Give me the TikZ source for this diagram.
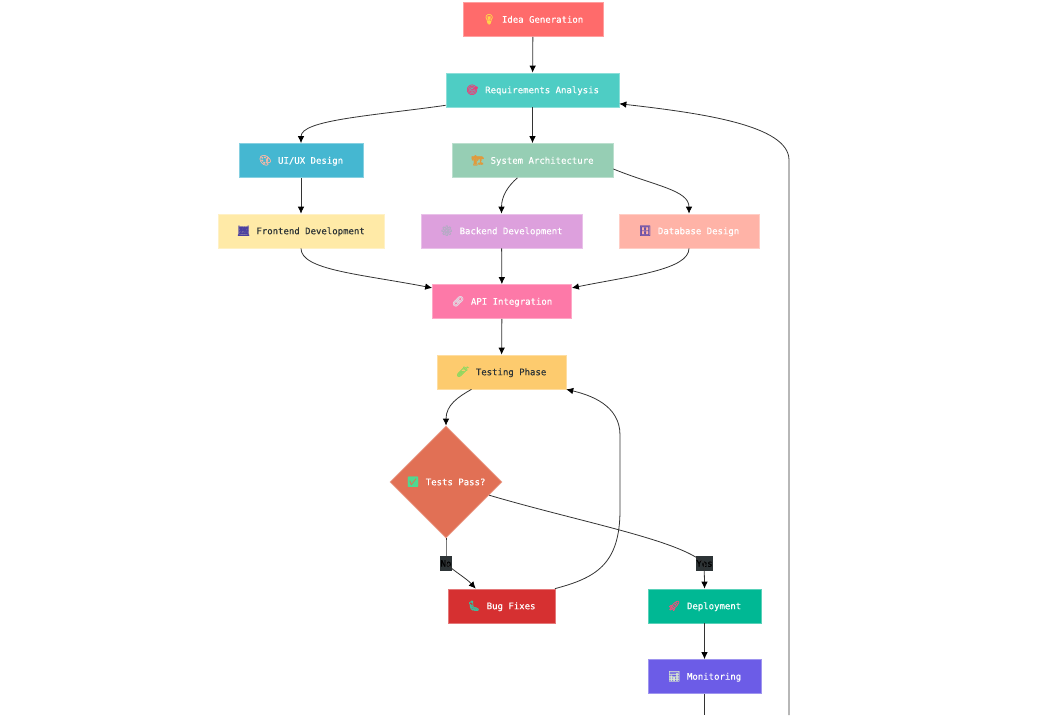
\documentclass[tikz,border=0pt]{standalone}
\usepackage{fontspec}
\setmonofont[FakeBold=0.4]{DejaVu Sans Mono}
\newfontfamily\emojifont[FakeBold=1.6]{Noto Emoji}
\usetikzlibrary{arrows.meta}
\usetikzlibrary{shapes.geometric}

\definecolor{ideared}{HTML}{FF6B6B}
\definecolor{reqteal}{HTML}{4ECDC4}
\definecolor{uiblue}{HTML}{45B7D1}
\definecolor{sysgreen}{HTML}{96CEB4}
\definecolor{frontyellow}{HTML}{FFEAA7}
\definecolor{backplum}{HTML}{DDA0DD}
\definecolor{dbpeach}{HTML}{FFB3A7}
\definecolor{apipink}{HTML}{FD79A8}
\definecolor{testorange}{HTML}{FDCB6E}
\definecolor{passcoral}{HTML}{E17055}
\definecolor{bugred}{HTML}{D63031}
\definecolor{deploygreen}{HTML}{00B894}
\definecolor{monviolet}{HTML}{6C5CE7}
\definecolor{darktext}{HTML}{2D3436}
\definecolor{edgegrey}{HTML}{333333}
% 图标颜色
\definecolor{bulbicon}{HTML}{FFD54A}
\definecolor{targeticon}{HTML}{E8407A}
\definecolor{paletteicon}{HTML}{F6B8A8}
\definecolor{cranicon}{HTML}{E09A3C}
\definecolor{abacusicon}{HTML}{4A3FA0}
\definecolor{gearicon}{HTML}{B4ACC4}
\definecolor{cabineticon}{HTML}{6A50A8}
\definecolor{linkicon}{HTML}{E4D4E0}
\definecolor{tubeicon}{HTML}{8ED860}
\definecolor{checkicon}{HTML}{50D890}
\definecolor{bugicon}{HTML}{3CC0A0}
\definecolor{rocketicon}{HTML}{F0507C}
\definecolor{charticon}{HTML}{D8E8D0}

\newcommand{\emo}[2]{{\emojifont\fontsize{10}{10}\selectfont\textcolor{#1}{#2}}\hspace{6.5pt}}

\tikzset{
    box/.style={rectangle, draw=#1!65!white, fill=#1, line width=0.7pt, inner sep=0pt,
        minimum height=34pt, text=white, text height=8pt, text depth=1.6pt,
        font=\ttfamily\fontsize{9}{9}\selectfont},
    flow/.style={draw=edgegrey, line width=0.8pt, -{Latex[length=7pt,width=6.5pt,color=black]}},
    plainflow/.style={draw=edgegrey, line width=0.8pt},
    tag/.style={fill=darktext, text=black, inner sep=0pt, minimum height=15pt, font=\ttfamily\fontsize{9}{9}\selectfont},
}

\begin{document}
\begin{tikzpicture}[x=1pt,y=-1pt]
    \useasboundingbox (0,0) rectangle (1055,715);

    % 节点
    \node[box=ideared, minimum width=140pt] (idea) at (533,19.5) {\emo{bulbicon}{💡}Idea Generation};
    \node[box=reqteal, minimum width=173pt] (req) at (532.5,90) {\emo{targeticon}{🎯}Requirements Analysis};
    \node[box=uiblue, minimum width=124pt] (ui) at (301,160.5) {\emo{paletteicon}{🎨}UI/UX Design};
    \node[box=sysgreen, minimum width=161pt] (sys) at (532.5,160.5) {\emo{cranicon}{🏗}System Architecture};
    \node[box=frontyellow, minimum width=166pt, text=darktext] (front) at (301,231) {\emo{abacusicon}{🧮}Frontend Development};
    \node[box=backplum, minimum width=161pt] (back) at (501.5,231) {\emo{gearicon}{⚙}Backend Development};
    \node[box=dbpeach, minimum width=140pt] (db) at (689,231) {\emo{cabineticon}{🗄}Database Design};
    \node[box=apipink, minimum width=139pt] (api) at (502,301.5) {\emo{linkicon}{🔗}API Integration};
    \node[box=testorange, minimum width=129pt, text=darktext] (test) at (501.5,372) {\emo{tubeicon}{🧪}Testing Phase};
    \node[box=bugred, minimum width=107pt] (bug) at (501.5,606) {\emo{bugicon}{🐛}Bug Fixes};
    \node[box=deploygreen, minimum width=113pt] (deploy) at (704.5,606) {\emo{rocketicon}{🚀}Deployment};
    \node[box=monviolet, minimum width=113pt] (mon) at (704.5,676.5) {\emo{charticon}{📊}Monitoring};
    \node[box=passcoral, shape=diamond, aspect=1, minimum width=112pt, minimum height=112pt] (pass) at (446,482) {\emo{checkicon}{✅}Tests Pass?};

    % 离开画面的线
    \coordinate (monout) at (704.5,715);
    \coordinate (loopout) at (789,715);

    % 标签
    \node[tag, minimum width=12pt] (no) at (446,563.5) {No};
    \node[tag, minimum width=17pt] (yes) at (704.5,563.5) {Yes};

    % 连线
    \draw[flow] (idea) -- (req);
    \draw[flow] (req) -- (sys);
    \draw[flow] (ui) -- (front);
    \draw[flow] (back) -- (api);
    \draw[flow] (api) -- (test);
    \draw[flow] (deploy) -- (mon);
    \draw[flow] (req.-170.8) .. controls (370,116) and (301,120) .. (ui.north);
    \draw[flow] (sys.-131.5) .. controls (508,186) and (501.5,196) .. (back.north);
    \draw[flow] (sys.-6) .. controls (655,186) and (689,190) .. (db.north);
    \draw[flow] (front.south) .. controls (301,270) and (360,274) .. (api.169);
    \draw[flow] (db.south) .. controls (689,270) and (630,276) .. (api.11);
    \draw[flow] (test.-150) .. controls (458,397) and (446,405) .. (pass.north);
    \draw[plainflow] (pass.south) .. controls (446,548) and (446,556) .. (no.center);
    \draw[flow] (no.center) .. controls (455,572) and (466,578) .. (bug.146.3);
    \draw[plainflow] (pass.-17) .. controls (580,522) and (680,540) .. (yes.center);
    \draw[flow] (yes.center) .. controls (704,572) and (704.5,578) .. (deploy.north);
    \draw[flow] (bug.18.3) .. controls (595,578) and (620,565) .. (620,510) .. controls (620,470) and (620,450) .. (620,435) .. controls (620,405) and (590,395) .. (test.-15.2);
    \draw[plainflow] (mon.south) -- (monout);
    \draw[flow] (loopout) -- (789,160) .. controls (789,125) and (700,113) .. (req.-9);
\end{tikzpicture}
\end{document}
